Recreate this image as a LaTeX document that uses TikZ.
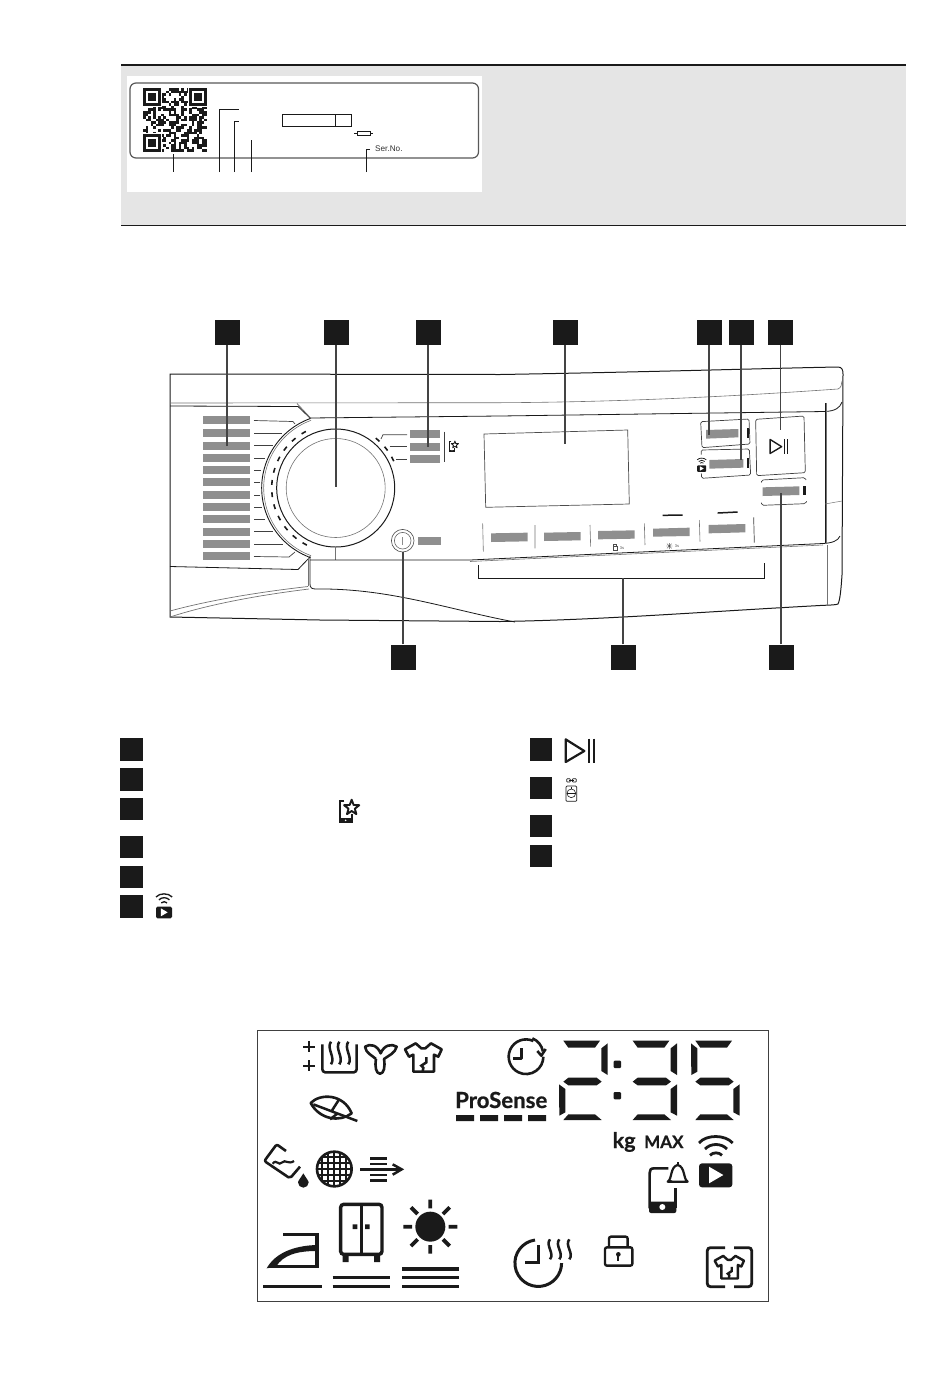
\documentclass[tikz,border=0pt]{standalone}
\usepackage{fontspec}
\setmainfont{Liberation Sans}
\newfontfamily\disp[BoldFeatures={FakeBold=0.7}]{Lato}
\definecolor{barg}{HTML}{8F8F8F}
\definecolor{ink}{HTML}{1A1A1A}
\definecolor{lineg}{HTML}{444444}
\tikzset{
  zm/.style 2 args={shift={(#1,#2)},x=0.33333pt,y=-0.33333pt},
  sq/.style={rectangle,fill=ink,draw=none,minimum size=25pt,inner sep=0pt},
  lsq/.style={rectangle,fill=ink,draw=none,minimum size=22.5pt,inner sep=0pt},
  ptr/.style={draw=lineg,line width=1.1pt},
  outl/.style={draw=ink,line width=1pt},
  thinl/.style={draw=black!55,line width=.6pt},
  tick/.style={draw=black!75,line width=.7pt},
  gbar/.style={fill=barg,draw=none},
  ic/.style={draw=ink,line width=2.6pt,line cap=butt,line join=round},
  seg/.style={fill=ink,draw=none},
}
\newcommand{\wifiplay}[3]{\begin{scope}[shift={(#1,#2)},scale=#3]
  \draw[ink,line width=#3*2.8pt] (-50,-46) .. controls (-28,-72) and (28,-72) .. (51,-46);
  \draw[ink,line width=#3*2.8pt] (-32,-28) .. controls (-15,-46) and (17,-46) .. (34,-28);
  \draw[ink,line width=#3*2.8pt] (-17,-9) .. controls (-8,-19) and (10,-19) .. (19,-9);
  \fill[ink,rounded corners=#3*3pt] (-50,15) rectangle (50,87);
  \fill[white] (-20,25) -- (23,50) -- (-20,75) -- cycle;
\end{scope}}
\newcommand{\phonestar}[3]{\begin{scope}[shift={(#1,#2)},scale=#3]
  \draw[ink,line width=#3*2pt] (-12,-32) -- (-26,-32) -- (-26,30) -- (10,30) -- (10,8);
  \fill[ink] (-28,20) rectangle (12,33);
  \fill[white] (-8,26) circle[radius=2.5];
  \draw[ink,line width=#3*1.9pt,line join=round] (10,-12) +(-90:24) -- +(-54:10) -- +(-18:24) -- +(18:10) -- +(54:24) -- +(90:10) -- +(126:24) -- +(162:10) -- +(198:24) -- +(234:10) -- cycle;
\end{scope}}
\newcommand{\playpause}[3]{\begin{scope}[shift={(#1,#2)},scale=#3]
  \draw[ink,line width=#3*2.2pt,line join=round] (-48,-35) -- (8,0) -- (-48,33) -- cycle;
  \draw[ink,line width=#3*2pt] (22,-37) -- (22,37) (37,-37) -- (37,37);
\end{scope}}
\newcommand{\shirt}[4]{\begin{scope}[shift={(#1,#2)},scale=#3]
  \draw[ink,line width=#4,line join=round] (-55,-25) -- (-23,-43) -- (-6,-28) -- (6,-28) -- (23,-43) -- (55,-25) -- (45,-3) -- (32,-9) -- (32,42) -- (-30,42) -- (-30,-9) -- (-43,-3) -- cycle;
  \draw[ink,line width=#4] (9,-2) -- (9,14) -- (-6,24) -- (0,30) -- (-2,42);
\end{scope}}
\newcommand{\squig}[4]{\draw[ink,line width=#4] (#1,#2) .. controls ({#1-15},{#2+(#3)*.3}) and ({#1+15},{#2+(#3)*.7}) .. (#1,{#2+#3});}
\newcommand{\sega}{(13,47) -- (123,47) -- (108,68) -- (28,68) -- cycle}
\newcommand{\segb}{(146,55) -- (146,150) -- (127,138) -- (127,70) -- cycle}
\newcommand{\segc}{(146,178) -- (146,272) -- (127,262) -- (127,192) -- cycle}
\newcommand{\segd}{(13,285) -- (28,268) -- (108,268) -- (128,285) -- cycle}
\newcommand{\sege}{(0,178) -- (19,192) -- (19,262) -- (1,272) -- cycle}
\newcommand{\segf}{(0,55) -- (19,70) -- (19,140) -- (1,150) -- cycle}
\newcommand{\segg}{(13,170) -- (28,158) -- (113,158) -- (128,170) -- (113,181) -- (28,181) -- cycle}
\begin{document}
\begin{tikzpicture}[x=1pt,y=-1pt,line cap=butt]
\useasboundingbox (0,0) rectangle (950,1374);
% ---------- rating-plate box
\fill[black!10] (121,66) rectangle (906,225);
\draw[ink,line width=1.8pt] (121,65) -- (906,65);
\draw[ink,line width=.9pt] (121,225.5) -- (906,225.5);
\fill[white] (127,76) rectangle (482,192);
\draw[draw=black!65,line width=1.2pt,rounded corners=6pt] (130,83) rectangle (478.5,158);
% QR
\begin{scope}[shift={(143,88)}]
\pgfmathsetseed{11}
\foreach \i in {0,...,24}{\foreach \j in {0,...,24}{
  \pgfmathrandominteger{\rr}{0}{1}
  \ifnum\rr=1 \fill[ink] (\i*2.56,\j*2.56) rectangle ++(2.6,2.6);\fi}}
\foreach \fx/\fy in {0/0,46/0,0/46}{
  \fill[white] (\fx-1,\fy-1) rectangle ++(20,20);
  \fill[ink] (\fx,\fy) rectangle ++(18,18);
  \fill[white] (\fx+2.6,\fy+2.6) rectangle ++(12.8,12.8);
  \fill[ink] (\fx+5,\fy+5) rectangle ++(8,8);}
\end{scope}
\coordinate (qa) at (173,154); \coordinate (qb) at (173,172);
\draw[ink,line width=.7pt] (qa) -- (qb);
\coordinate (la) at (219,172); \coordinate (lb) at (219,109); \coordinate (lc) at (239,109);
\draw[ink,line width=.7pt] (la) -- (lb) -- (lc);
\coordinate (ma) at (234,172); \coordinate (mb) at (234,121); \coordinate (mc) at (239,121);
\draw[ink,line width=.7pt] (ma) -- (mb) -- (mc);
\coordinate (na) at (251.5,172); \coordinate (nb) at (251.5,140);
\draw[ink,line width=.7pt] (na) -- (nb);
\coordinate (oa) at (366,172); \coordinate (ob) at (366,149); \coordinate (oc) at (370,149);
\draw[ink,line width=.7pt] (oa) -- (ob) -- (oc);
\node[anchor=west,inner sep=0pt,font=\fontsize{8.2}{9}\selectfont,text=black!80] (serno) at (375,149) {Ser.No.};
\draw[ink,line width=.7pt] (282,114) rectangle (351,126);
\draw[ink,line width=.7pt] (335.5,114) -- (335.5,126);
\draw[ink,line width=.7pt] (354,133.3) -- (373,133.3);
\draw[ink,line width=.7pt,fill=white] (357.5,131) rectangle (370,135.7);
% ---------- panel outline
\draw[outl] (170,374) -- (500,374.5) .. controls (650,372) and (780,368) .. (838,367) .. controls (842,367) and (843,370) .. (843,374) -- (842,575) .. controls (841,590) and (840,600) .. (838,604) .. controls (836,605) and (830,605) .. (820,605.5) .. controls (700,612) and (600,620) .. (500,621.5) -- (320,620) -- (170,617) -- cycle;
% fascia upper lines
\draw[thinl] (170,403) -- (500,402.7) .. controls (650,402) and (780,393) .. (838,389) .. controls (841,388) and (842,384) .. (842,381);
\draw[outl,line width=.8pt] (170,406) -- (298,406.5) -- (310,418) -- (500,416) -- (825,411.5) .. controls (835,411) and (840,408) .. (842,402);
\draw[thinl,line width=.8pt] (297,403.5) -- (311,418.5);
\coordinate (dial) at (335.7,488);
\draw[outl,line width=.9pt] (dial) ++(-110:74) arc[start angle=-110,end angle=-250,radius=74];
\draw[thinl] (dial) ++(-110:72) arc[start angle=-110,end angle=-250,radius=72];
\draw[outl,line width=1pt] (dial) circle[radius=59];
\draw[thinl] (dial) circle[radius=49.5];
\draw[outl,line width=.8pt] (170,566.5) -- (298,569.5) -- (310,557);
\draw[outl,line width=.8pt] (310,556) -- (310,584) .. controls (310,588) and (312,589) .. (316,589) .. controls (390,588) and (450,610) .. (515,622);
\draw[thinl] (308,556) -- (308,586);
\draw[thinl,line width=.7pt] (170,611) .. controls (210,600) and (260,592) .. (308,586.5);
\draw[thinl,line width=.7pt] (170,617) .. controls (210,604) and (260,595) .. (309,589);
\draw[thinl] (335.7,547) -- (335.7,560);
\draw[outl,line width=.8pt] (310,560) -- (470,560) -- (823,543.5) .. controls (832,543) and (838,541) .. (840,536);
\draw[thinl] (470,561.5) -- (823,545);
\draw[outl,line width=.8pt] (825,403) -- (825,543);
\draw[thinl] (826.7,403) -- (826.7,543);
\draw[thinl] (827.5,545) -- (827.5,605);
\draw[thinl,line width=.5pt] (825,504) -- (842,501);
% ---------- programme labels, ticks and dashes
\foreach \yy in {420.3,432.7,445.7,458.3,470,482,495,507,519,532,544,555.7}
  \fill[gbar] (203,\yy-4) rectangle (250,\yy+4);
\draw[tick] (254,420.5) -- (293,421.5) -- (295,424);
\draw[tick] (254,433) -- (282,433);
\draw[tick] (254,445.5) -- (273,445.5);
\draw[tick] (254,458) -- (265,458);
\draw[tick] (254,470) -- (261,470);
\draw[tick] (254,482) -- (260,482);
\draw[tick] (254,495) -- (260,495);
\draw[tick] (254,507) -- (262,507);
\draw[tick] (254,519) -- (265,519);
\draw[tick] (254,531.5) -- (273,531.5);
\draw[tick] (254,544) -- (283,544);
\draw[tick] (254,556.5) -- (289,557) -- (295,552);
\foreach \aa in {-120,-131,-142,-153,-164,-175,-186,-197,-208,-219,-230,-241,-49,-38,-27}
  \draw[ink,line width=1.6pt] (dial) ++(\aa-2.2:64) arc[start angle=\aa-2.2,delta angle=4.4,radius=64];
\foreach \yy in {434,446.7,458.7}
  \fill[gbar] (410,\yy-4) rectangle (440,\yy+4);
\draw[tick] (381,439) -- (383,434.7) -- (407,434.7);
\draw[tick] (389.5,446.7) -- (407,446.7);
\draw[tick] (396,459) -- (407,459);
\draw[tick] (444.3,431.7) -- (444.3,461.7);
\begin{scope}[zm={160}{360}]
  \phonestar{880}{260}{.47}
\end{scope}
% power
\coordinate (pw) at (402.7,540.7);
\draw[draw=black!70,line width=.6pt] (pw) circle[radius=11.3];
\draw[draw=black!60,line width=.6pt] (pw) circle[radius=8.3];
\draw[draw=black!45,line width=.6pt] (402.7,537) -- (402.7,545);
\fill[gbar] (418,537) rectangle (441,545);
% display window
\draw[draw=black!70,line width=.7pt] (484,434) -- (627.7,430) -- (629.3,504) -- (485.7,507.3) -- cycle;
% buttons
\begin{scope}[zm={470}{360}]
  \draw[thinl] (38,490) -- (40,575) (195,495) -- (195,565) (360,495) -- (362,560) (523,490) -- (525,555) (688,480) -- (690,545);
  \draw[tick] (851,472) -- (853,548);
  \fill[gbar] (63,520) -- (173,518) -- (173,544) -- (63,546) -- cycle;
  \fill[gbar] (222,518) -- (332,516) -- (332,541) -- (222,543) -- cycle;
  \fill[gbar] (384,513) -- (494,511) -- (494,536) -- (384,538) -- cycle;
  \fill[gbar] (549,506) -- (659,503) -- (659,528) -- (549,530) -- cycle;
  \fill[gbar] (716,495) -- (826,492) -- (826,517) -- (716,520) -- cycle;
  \draw[ink,line width=1.5pt] (578,466) -- (638,465);
  \draw[ink,line width=1.5pt] (743,459) -- (803,456);
  \draw[draw=black!70,line width=.4pt] (429,558) rectangle (441,571);
  \draw[draw=black!70,line width=.4pt] (431,558) -- (431,554) -- (439,554) -- (439,558);
  \node[inner sep=0pt,font=\fontsize{4}{4}\selectfont,text=black!70] (sa) at (456,565) {3s};
  \draw[draw=black!70,line width=.4pt] (588,558) -- (608,558) (598,549) -- (598,567) (591,551) -- (605,565) (591,565) -- (605,551);
  \node[inner sep=0pt,font=\fontsize{4}{4}\selectfont,text=black!70] (sb) at (621,559) {3s};
  % button A
  \draw[tick,rounded corners=1.5pt] (692,185) -- (837,177) -- (840,252) -- (696,263) -- cycle;
  \fill[gbar] (708,210) -- (805,207) -- (805,232) -- (708,236) -- cycle;
  \fill[ink] (830,205) rectangle (838,233);
  % button B
  \draw[tick,rounded corners=1.5pt] (694,284) -- (693,270) -- (838,267) -- (842,345) -- (695,355) -- (694,340);
  \fill[gbar] (718,300) -- (820,297) -- (820,323) -- (718,326) -- cycle;
  \fill[ink] (832,295) rectangle (838,323);
  \wifiplay{695}{312}{.27}
  % play button
  \draw[tick,rounded corners=1.5pt] (857,178) -- (1002,168) -- (1006,338) -- (860,347) -- cycle;
  \playpause{930}{260}{.62}
  % button C
  \draw[tick,rounded corners=1.5pt] (874,368) -- (875,360) -- (1005,353) -- (1008,360);
  \draw[tick,rounded corners=1.5pt] (874,428) -- (876,436) -- (1006,431) -- (1010,424);
  \fill[gbar] (878,382) -- (988,379) -- (988,405) -- (878,408) -- cycle;
  \fill[ink] (1000,377) rectangle (1007,405);
\end{scope}
% bracket
\coordinate (br1) at (478,565); \coordinate (br2) at (478,578); \coordinate (br3) at (623,578);
\coordinate (br4) at (764,578); \coordinate (br5) at (764,563);
\draw[ink,line width=.8pt] (br1) -- (br2) -- (br4) -- (br5);
% ---------- callouts
\node[sq] (a1) at (227,332) {};
\node[sq] (a2) at (336,332) {};
\node[sq] (a3) at (428,332) {};
\node[sq] (a4) at (565,332) {};
\node[sq] (a5) at (709,332) {};
\node[sq] (a6) at (741,332) {};
\node[sq] (a7) at (780.5,332) {};
\node[sq] (b1) at (403,657) {};
\node[sq] (b2) at (623,657) {};
\node[sq] (b3) at (781,657) {};
\coordinate (t1) at (227,446);
\coordinate (t2) at (336,487);
\coordinate (t3) at (428,447);
\coordinate (t4) at (565,444);
\coordinate (t5) at (709,435);
\coordinate (t6) at (741,460);
\coordinate (t7) at (780.5,430);
\coordinate (u1) at (403,552);
\coordinate (u3) at (781,493);
\draw[ptr] (a1) -- (t1);
\draw[ptr] (a2) -- (t2);
\draw[ptr] (a3) -- (t3);
\draw[ptr] (a4) -- (t4);
\draw[ptr] (a5) -- (t5);
\draw[ptr] (a6) -- (t6);
\draw[ptr] (a7) -- (t7);
\draw[ptr] (b1) -- (u1);
\draw[ptr] (b2) -- (br3);
\draw[ptr] (b3) -- (u3);
% ---------- legend
\foreach \nn/\yy in {c1/749.5,c2/779.5,c3/809,c4/847,c5/877,c6/906.5}
  \node[lsq] (\nn) at (131.5,\yy) {};
\foreach \nn/\yy in {d1/749.5,d2/788,d3/826,d4/856}
  \node[lsq] (\nn) at (541,\yy) {};
\begin{scope}[zm={110}{730}]
  \phonestar{715}{245}{1}
  \wifiplay{162}{523}{.48}
  \playpause{1415}{63}{1}
  \draw[ink,line width=.7pt,rounded corners=1pt] (1368,168) rectangle (1400,214);
  \draw[ink,line width=.6pt] (1384,190) circle[radius=13];
  \draw[ink,line width=.6pt] (1371,190) -- (1397,190) (1384,170) -- (1384,176);
  \draw[ink,line width=.7pt,rounded corners=.8pt] (1370,146) rectangle (1381,156);
  \draw[ink,line width=.7pt,rounded corners=.8pt] (1387,146) rectangle (1399,156);
  \draw[ink,line width=.7pt] (1378,151) -- (1391,151);
\end{scope}
% ---------- control-panel display
\draw[draw=black!75,line width=.9pt] (257,1030.5) rectangle (768,1301.5);
\begin{scope}[zm={250}{1025}]
  \draw[ink,line width=2.3pt] (160,65) -- (194,65) (177,48) -- (177,82) (160,122) -- (194,122) (177,105) -- (177,139);
  \draw[ic,rounded corners=3pt] (217,58) -- (217,142) -- (320,142) -- (320,58);
  \squig{243}{50}{68}{2.5pt}
  \squig{268}{50}{68}{2.5pt}
  \squig{295}{50}{68}{2.5pt}
  \draw[ic] (378,102) .. controls (365,90) and (348,85) .. (345,65) .. controls (360,55) and (382,60) .. (392,85) .. controls (402,60) and (425,55) .. (440,65) .. controls (435,85) and (418,90) .. (402,102) .. controls (406,125) and (402,146) .. (390,146) .. controls (378,146) and (374,125) .. (378,102);
  \shirt{520}{98}{1}{2.6pt}
  % leaf
  \draw[ink,line width=2.6pt,line join=round] (182,234) .. controls (210,205) and (280,205) .. (305,265) .. controls (270,292) and (210,285) .. (182,234) -- cycle;
  \draw[ink,line width=2.5pt] (190,238) -- (322,288) (245,258) -- (268,222) (240,283) -- (262,266);
  % pour
  \draw[ic,rounded corners=2pt] (108,378) -- (80,358) -- (43,408) -- (120,460) -- (150,425);
  \draw[ink,line width=2.2pt] (68,416) .. controls (80,400) and (85,425) .. (97,412) .. controls (105,402) and (115,420) .. (132,408);
  \fill[ink] (160,445) .. controls (170,462) and (176,468) .. (176,472) arc[start angle=0,end angle=180,radius=16] .. controls (144,468) and (150,462) .. (160,445);
  % net
  \draw[ic] (253,432) circle[radius=52];
  \begin{scope}
    \clip (253,432) circle[radius=52];
    \foreach \v in {-36,-18,0,18,36}{ \draw[ink,line width=2.2pt] (253+\v,375) -- (253+\v,490); \draw[ink,line width=2.2pt] (195,432+\v) -- (310,432+\v);}
  \end{scope}
  % arrow lines
  \draw[ink,line width=2.6pt] (330,433) -- (452,433);
  \draw[ink,line width=2.5pt] (428,418) -- (455,433) -- (428,449);
  \draw[ink,line width=2.5pt] (360,400) -- (412,400) (360,417) -- (412,417) (360,450) -- (412,450) (360,466) -- (412,466);
  % iron
  \draw[ink,line width=3.6pt,line join=miter] (100,628) -- (201,628) -- (201,724) -- (58,724);
  \fill[ink] (50,730) .. controls (75,685) and (130,662) .. (200,660) -- (200,678) .. controls (140,678) and (100,690) .. (78,725) -- cycle;
  \draw[ink,line width=3.3pt] (40,784) -- (215,784);
  % wardrobe
  \draw[ink,line width=3.4pt,rounded corners=3pt] (272,538) rectangle (396,688);
  \draw[ink,line width=3pt] (333,538) -- (333,688);
  \fill[ink] (308,598) rectangle (322,612) (345,598) rectangle (359,612);
  \fill[ink] (278,688) rectangle (296,711) (372,688) rectangle (390,711);
  \draw[ink,line width=3.3pt] (248,758) -- (420,758) (248,784) -- (420,784);
  % sun
  \fill[ink] (541,605) circle[radius=45];
  \draw[ink,line width=3.8pt] (541,524) -- (541,550) (541,660) -- (541,686) (460,605) -- (486,605) (596,605) -- (622,605) (483,547) -- (503,567) (579,643) -- (599,663) (483,663) -- (503,643) (579,567) -- (599,547);
  \draw[ink,line width=3.3pt] (456,732) -- (627,732) (456,758) -- (627,758) (456,784) -- (627,784);
\end{scope}
\node[inner sep=0pt,anchor=base west,font=\disp\bfseries\fontsize{22.2}{22}\selectfont,text=ink] (pro) at (455,1108) {ProSense};
\fill[ink] (456,1115) rectangle ++(18,6) (480,1115) rectangle ++(18,6) (504,1115) rectangle ++(18,6) (528,1115) rectangle ++(18,6);
\begin{scope}[zm={500}{1025}]
  % clock
  \draw[ic] (100,48) arc[start angle=-65,end angle=-360,radius=52];
  \draw[ic] (65,70) -- (65,100) -- (40,100);
  \draw[ic] (97,40) arc[start angle=-68,end angle=-10,radius=52];
  \draw[ic] (112,78) -- (124,92) -- (137,72);
  % digits
  \begin{scope}[shift={(177,0)}]
    \foreach \s in {\sega,\segb,\sege,\segd,\segg} \fill[seg] \s;
  \end{scope}
  \begin{scope}[shift={(385,0)}]
    \foreach \s in {\sega,\segb,\segc,\segd,\segg} \fill[seg] \s;
  \end{scope}
  \begin{scope}[shift={(573,0)}]
    \foreach \s in {\sega,\segc,\segd,\segf,\segg} \fill[seg] \s;
  \end{scope}
  \fill[ink,rounded corners=1pt] (341,107) rectangle (363,129) (341,201) rectangle (363,223);
  % wifi play
  \wifiplay{647}{400}{1}
  % phone + bell
  \draw[ic] (505,430) -- (462,430) .. controls (452,430) and (449,435) .. (449,444) -- (449,550);
  \draw[ic] (527,490) -- (527,550);
  \fill[ink,rounded corners=2pt] (447,530) rectangle (529,564);
  \fill[white] (487,546) circle[radius=9];
  \draw[ink,line width=2.2pt,line join=round] (503,470) .. controls (517,462) and (510,425) .. (533,420) .. controls (556,425) and (549,462) .. (563,470) -- cycle;
  \draw[ink,line width=2.2pt] (533,420) -- (533,412);
  \fill[ink] (519,472) arc[start angle=180,end angle=0,radius=-7];
  % steam clock
  \draw[ink,line width=3pt] (105,645) arc[start angle=-98,end angle=-360,radius=70];
  \draw[ink,line width=3pt] (115,660) -- (115,712) -- (75,712);
  \squig{150}{643}{60}{2.5pt}
  \squig{178}{643}{60}{2.5pt}
  \squig{208}{643}{60}{2.5pt}
  % lock
  \draw[ink,line width=2.4pt,rounded corners=2pt] (315,667) rectangle (397,722);
  \draw[ink,line width=2.4pt,rounded corners=2pt] (327,667) -- (327,635) -- (383,635) -- (383,667);
  \fill[ink] (355,688) circle[radius=7];
  \fill[ink] (352,688) rectangle (358,707);
  % shirt box
  \draw[ink,line width=2.8pt,rounded corners=3pt] (675,668) -- (622,668) -- (622,785) -- (675,785);
  \draw[ink,line width=2.8pt,rounded corners=3pt] (702,668) -- (755,668) -- (755,785) -- (702,785);
  \shirt{688}{727}{.8}{2.4pt}
\end{scope}
\node[inner sep=0pt,anchor=base west,font=\disp\bfseries\fontsize{21.5}{21}\selectfont,text=ink] (kg) at (612.5,1148) {kg};
\node[inner sep=0pt,anchor=base west,font=\disp\bfseries\fontsize{17}{17}\selectfont,text=ink] (mx) at (644,1148) {MAX};
\end{tikzpicture}
\end{document}
